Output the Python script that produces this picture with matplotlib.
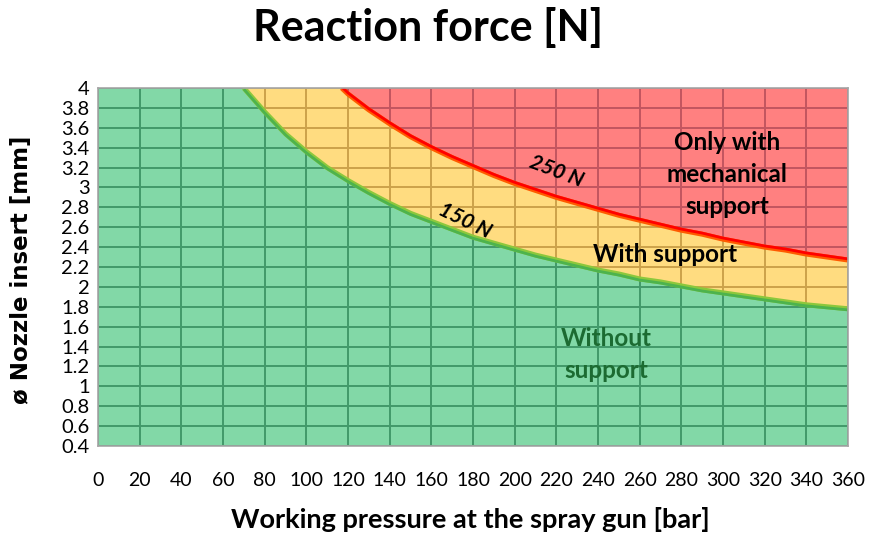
import numpy as np
import matplotlib
matplotlib.use("Agg")
import matplotlib.pyplot as plt
import matplotlib.patheffects as pe
from matplotlib.patches import Polygon

# ---- data ----
p150 = [70, 80, 90, 100, 110, 120, 130, 140, 150, 160, 170, 180, 190, 200, 210,
        220, 230, 240, 250, 260, 270, 280, 290, 300, 310, 320, 330, 340, 350, 360]
d150 = [4.0, 3.76, 3.54, 3.36, 3.2, 3.07, 2.95, 2.84, 2.74, 2.66, 2.58, 2.5, 2.44, 2.38, 2.32,
        2.27, 2.22, 2.17, 2.13, 2.08, 2.05, 2.01, 1.97, 1.94, 1.91, 1.88, 1.85, 1.82, 1.80, 1.78]

p250 = [117, 120, 130, 140, 150, 160, 170, 180, 190, 200, 210, 220, 230, 240, 250,
        260, 270, 280, 290, 300, 310, 320, 330, 340, 350, 360]
d250 = [4.0, 3.94, 3.78, 3.64, 3.51, 3.40, 3.30, 3.21, 3.12, 3.04, 2.97, 2.90, 2.84, 2.78, 2.72,
        2.67, 2.62, 2.57, 2.53, 2.48, 2.44, 2.40, 2.37, 2.33, 2.30, 2.27]

x_ticks = list(range(0, 361, 20))
y_ticks = [0.4, 0.6, 0.8, 1, 1.2, 1.4, 1.6, 1.8, 2, 2.2, 2.4, 2.6, 2.8, 3, 3.2, 3.4, 3.6, 3.8, 4]
y_ticklabels = ["0.4", "0.6", "0.8", "1", "1.2", "1.4", "1.6", "1.8", "2", "2.2", "2.4",
                "2.6", "2.8", "3", "3.2", "3.4", "3.6", "3.8", "4"]

title = "Reaction force [N]"
xlabel = "Working pressure at the spray gun [bar]"
ylabel = "ø Nozzle insert [mm]"

XMIN, XMAX, YMIN, YMAX = 0, 360, 0.4, 4.0

plt.rcParams['font.family'] = ['Lato', 'DejaVu Sans']

fig = plt.figure(figsize=(8.71, 5.34), dpi=100)
ax = fig.add_axes([98/871, 1-446/534, (848-98)/871, (446-88)/534])
ax.set_xlim(XMIN, XMAX)
ax.set_ylim(YMIN, YMAX)

# region polygons
green_poly = [(XMIN, YMIN), (XMIN, YMAX)] + list(zip(p150, d150)) + [(XMAX, YMIN)]
yellow_poly = [(p150[0], YMAX)] + list(zip(p150, d150)) + list(zip(p250[::-1], d250[::-1]))
red_poly = list(zip(p250, d250)) + [(XMAX, YMAX)]

regions = [
    (green_poly, "#82D8A7", "#42996A"),
    (yellow_poly, "#FFDC80", "#CCA24A"),
    (red_poly, "#FF8080", "#C25560"),
]

for poly, fc, gc in regions:
    patch = Polygon(poly, closed=True, facecolor=fc, edgecolor="none", zorder=1)
    ax.add_patch(patch)
    clip = Polygon(poly, closed=True, transform=ax.transData, facecolor="none", edgecolor="none")
    ax.add_patch(clip)
    for xv in x_ticks:
        ln, = ax.plot([xv, xv], [YMIN, YMAX], color=gc, lw=1.4, zorder=2)
        ln.set_clip_path(clip)
    for yv in y_ticks:
        ln, = ax.plot([XMIN, XMAX], [yv, yv], color=gc, lw=1.4, zorder=2)
        ln.set_clip_path(clip)

# curves
ax.plot(p150, d150, color="#8CC83C", lw=3.6, zorder=4, solid_capstyle="butt")
ax.plot(p150, d150, color="#4DB34D", lw=2.0, zorder=5, solid_capstyle="butt",
        path_effects=[pe.Stroke(offset=(0, -0.8), foreground="#4DB34D")])
ax.plot(p250, d250, color="#FF5A00", lw=3.6, zorder=4, solid_capstyle="butt")
ax.plot(p250, d250, color="#FF0000", lw=2.0, zorder=5, solid_capstyle="butt",
        path_effects=[pe.Stroke(offset=(0, 0.8), foreground="#FF0000")])

# labels in plot
ax.text(220, 3.16, "250 N", rotation=-21, fontsize=15, fontweight="bold",
        style="italic", ha="center", va="center", zorder=6)
ax.text(176, 2.66, "150 N", rotation=-26, fontsize=15, fontweight="bold",
        style="italic", ha="center", va="center", zorder=6)
ax.text(302, 3.13, "Only with\nmechanical\nsupport", fontsize=17.5, fontweight="bold",
        ha="center", va="center", linespacing=1.45, zorder=6)
ax.text(272, 2.33, "With support", fontsize=17.5, fontweight="bold",
        ha="center", va="center", zorder=6)
ax.text(244, 1.32, "Without\nsupport", fontsize=17.5, fontweight="bold", color="#1C6B32",
        ha="center", va="center", linespacing=1.45, zorder=6)

# axes styling
ax.set_xticks(x_ticks)
ax.set_xticklabels([str(v) for v in x_ticks], fontsize=14)
ax.set_yticks(y_ticks)
ax.set_yticklabels(y_ticklabels, fontsize=14.5)
ax.tick_params(axis="x", length=0, pad=19)
ax.tick_params(axis="y", length=0, pad=6)
for s in ax.spines.values():
    s.set_color("#A6A6A6")
    s.set_linewidth(1.2)
    s.set_zorder(7)

fig.text(428/871, 1-28/534, title, fontsize=31, fontweight="bold", ha="center", va="center")
fig.text(470/871, 1-520/534, xlabel, fontsize=19.5, fontweight="bold", ha="center", va="center")
fig.text(22/871, 1-270/534, ylabel, fontsize=16.5, fontweight="bold", rotation=90,
         ha="center", va="center", family="DejaVu Sans")

fig.savefig("out.png", dpi=100)
